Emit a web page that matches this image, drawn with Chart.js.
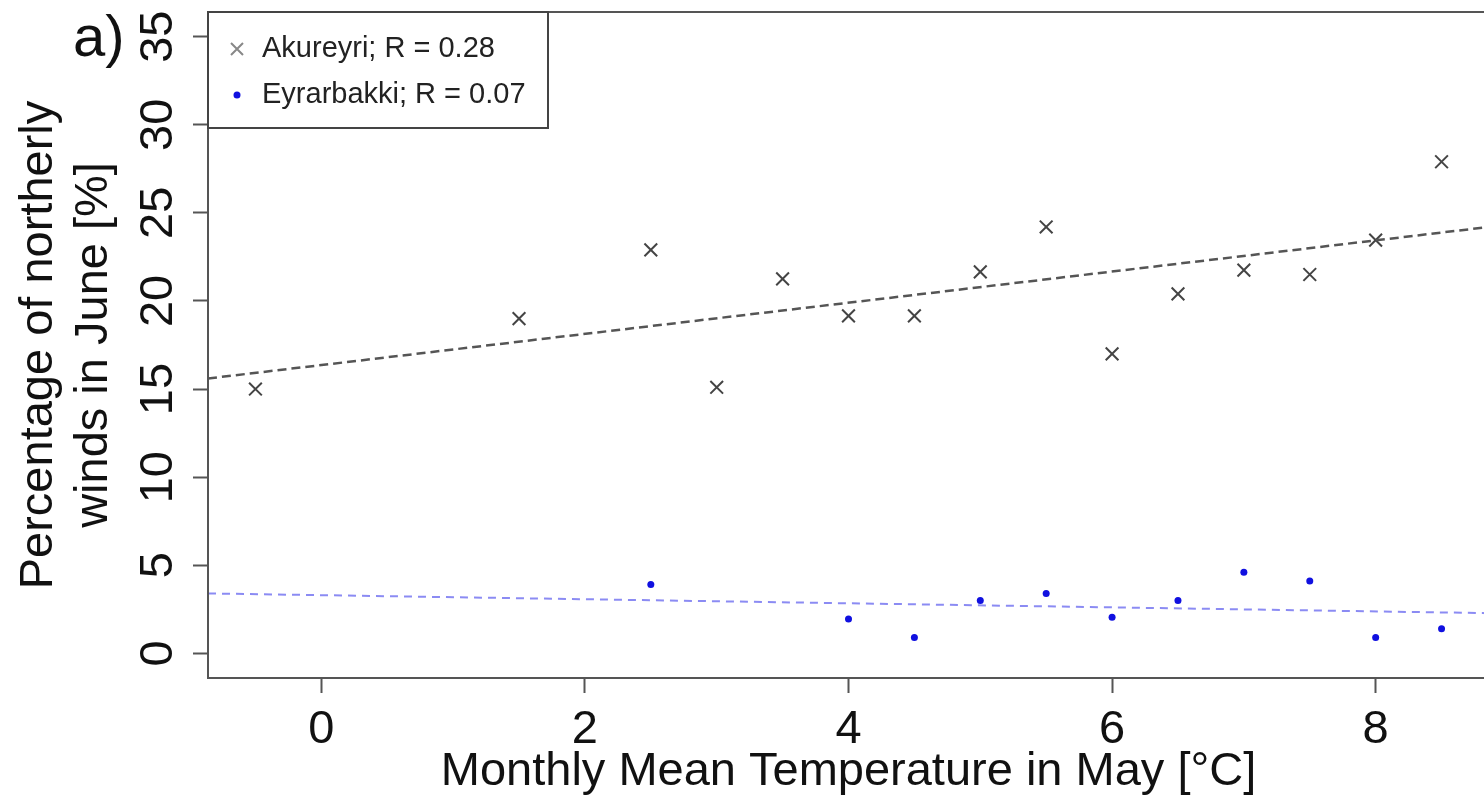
<!DOCTYPE html>
<html>
<head>
<meta charset="utf-8">
<script src="https://cdn.jsdelivr.net/npm/chart.js@4.4.1/dist/chart.umd.min.js"></script>
<style>
html, body { margin: 0; padding: 0; background: #fff; overflow: hidden; }
#wrap { position: absolute; left: 0; top: 0; width: 1500px; height: 812px; }
</style>
</head>
<body>
<div id="wrap"><canvas id="chart" width="1500" height="812"></canvas></div>
<script>
// Values
const akureyriTemp  = [-0.5, 1.5, 2.5, 3.0, 3.5, 4.0, 4.5, 5.0, 5.5, 6.0, 6.5, 7.0, 7.5, 8.0, 8.5];
const akureyriNorth = [15.0, 19.0, 22.9, 15.1, 21.25, 19.15, 19.15, 21.65, 24.2, 17.0, 20.4, 21.75, 21.5, 23.45, 27.9];
const eyrarTemp  = [2.5, 4.0, 4.5, 5.0, 5.5, 6.0, 6.5, 7.0, 7.5, 8.0, 8.5];
const eyrarNorth = [3.9, 1.95, 0.9, 3.0, 3.4, 2.05, 3.0, 4.6, 4.1, 0.9, 1.4];

// fitted lines (end points across the plot)
const akureyriFitX = [-0.86, 8.86];
const akureyriFitY = [15.6, 24.2];
const eyrarFitX = [-0.86, 8.86];
const eyrarFitY = [3.4, 2.28];

const xTicks = [0, 2, 4, 6, 8];
const yTicks = [0, 5, 10, 15, 20, 25, 30, 35];
const legendLabels = ['Akureyri; R = 0.28', 'Eyrarbakki; R = 0.07'];
const panelLabel = 'a)';

const FONT = "'Liberation Sans', Arial, sans-serif";
Chart.defaults.font.family = FONT;

function toPoints(xs, ys) {
  return xs.map((x, i) => ({x: x, y: ys[i]}));
}

// box round the plot, legend and panel letter
var decorations = {
  id: 'decorations',
  afterDraw(chart) {
    const c = chart.ctx;
    const a = chart.chartArea;
    c.save();
    c.strokeStyle = '#555';
    c.lineWidth = 2;
    c.strokeRect(a.left, a.top, a.right - a.left, a.bottom - a.top);

    // legend
    const lx = a.left, ly = a.top;
    c.fillStyle = '#fff';
    c.fillRect(lx, ly, 340, 116);
    c.strokeStyle = '#444';
    c.strokeRect(lx, ly, 340, 116);
    c.font = '29px ' + FONT;
    c.textBaseline = 'middle';
    c.fillStyle = '#222';
    c.fillText(legendLabels[0], lx + 54, ly + 37);
    c.fillText(legendLabels[1], lx + 54, ly + 83);
    // cross
    c.strokeStyle = '#888';
    c.lineWidth = 2;
    const cx = lx + 29, cy = ly + 37;
    c.beginPath();
    c.moveTo(cx - 6, cy - 6); c.lineTo(cx + 6, cy + 6);
    c.moveTo(cx + 6, cy - 6); c.lineTo(cx - 6, cy + 6);
    c.stroke();
    // dot
    c.fillStyle = '#1010e0';
    c.beginPath();
    c.arc(lx + 29, ly + 83, 3.5, 0, Math.PI * 2);
    c.fill();

    // panel letter
    c.fillStyle = '#111';
    c.font = '58px ' + FONT;
    c.textBaseline = 'alphabetic';
    c.fillText(panelLabel, 73, 56);
    c.restore();
  }
};

var ctx = document.getElementById('chart').getContext('2d');
var chart = new Chart(ctx, {
  type: 'scatter',
  data: {
    datasets: [
      {
        label: legendLabels[0],
        data: toPoints(akureyriTemp, akureyriNorth),
        pointStyle: 'crossRot',
        pointRadius: 9,
        borderColor: '#444',
        backgroundColor: '#444',
        borderWidth: 2,
        order: 2,
      },
      {
        label: legendLabels[1],
        data: toPoints(eyrarTemp, eyrarNorth),
        pointStyle: 'circle',
        pointRadius: 3.5,
        backgroundColor: '#1010e0',
        borderWidth: 0,
        order: 2,
      },
      {
        type: 'line',
        data: toPoints(akureyriFitX, akureyriFitY),
        borderColor: '#555',
        borderWidth: 2.5,
        borderDash: [9, 5],
        pointRadius: 0,
        fill: false,
        order: 1,
      },
      {
        type: 'line',
        data: toPoints(eyrarFitX, eyrarFitY),
        borderColor: 'rgba(110,110,240,0.8)',
        borderWidth: 2,
        borderDash: [8, 6],
        pointRadius: 0,
        fill: false,
        order: 1,
      }
    ]
  },
  options: {
    responsive: false,
    animation: false,
    layout: { padding: { left: 0, top: 12, right: 7, bottom: 0 } },
    scales: {
      x: {
        type: 'linear',
        min: -0.86,
        max: 8.86,
        afterBuildTicks: s => { s.ticks = xTicks.map(v => ({value: v})); },
        afterFit: s => { s.height = 134; s.paddingLeft = 0; s.paddingRight = 0; },
        grid: { drawOnChartArea: false, drawTicks: true, tickLength: 15, tickWidth: 2, tickColor: '#555' },
        border: { display: false },
        ticks: { font: { size: 47 }, color: '#111', padding: 9, maxRotation: 0, autoSkip: false },
        title: {
          display: true,
          text: 'Monthly Mean Temperature in May [°C]',
          font: { size: 47 },
          color: '#111',
          padding: { top: 0, bottom: 12 }
        }
      },
      y: {
        type: 'linear',
        min: -1.4,
        max: 36.4,
        afterBuildTicks: s => { s.ticks = yTicks.map(v => ({value: v})); },
        afterFit: s => { s.width = 208; s.paddingTop = 0; s.paddingBottom = 0; },
        grid: { drawOnChartArea: false, drawTicks: true, tickLength: 15, tickWidth: 2, tickColor: '#555' },
        border: { display: false },
        ticks: { font: { size: 47 }, color: '#111', padding: 8, minRotation: 90, maxRotation: 90, crossAlign: 'center', autoSkip: false },
        title: {
          display: true,
          text: ['Percentage of northerly', 'winds in June [%]'],
          font: { size: 47, lineHeight: 1.17 },
          color: '#111',
          padding: { top: 12, bottom: 0 }
        }
      }
    },
    plugins: {
      legend: { display: false },
      tooltip: { enabled: false }
    }
  },
  plugins: [decorations]
});
</script>
</body>
</html>
